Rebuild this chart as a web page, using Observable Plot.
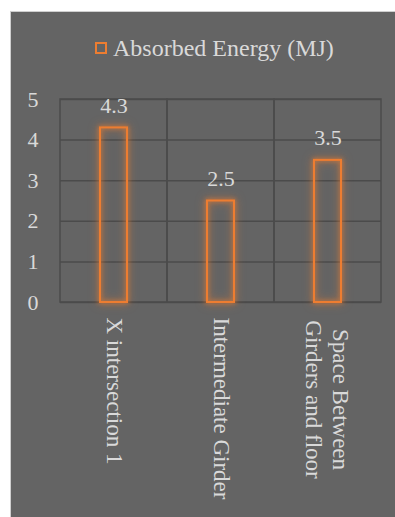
<!DOCTYPE html>
<html><head><meta charset="utf-8">
<script src="https://cdn.jsdelivr.net/npm/d3@7"></script>
<script src="https://cdn.jsdelivr.net/npm/@observablehq/plot@0.6"></script>
<style>
body{margin:0;background:#fff;}
#box{position:absolute;left:10px;top:11px;width:384px;height:505px;background:#646464;border-left:1px solid #cfcfcf;border-top:1px solid #cfcfcf;overflow:hidden;font-family:"Liberation Serif","LiberationSerif",Tinos,"Times New Roman",Times,"DejaVu Serif",serif;}
#legend{box-sizing:border-box;height:60px;padding-top:22px;padding-left:84px;display:flex;color:#d9d9d9;font-size:24px;line-height:28px;align-items:flex-start;}
#legend .sw{box-sizing:border-box;width:12px;height:12px;border:2px solid #ED7D31;margin-top:8px;margin-right:6px;}
svg{display:block;}
</style></head>
<body>
<div id="box">
  <div id="legend"><div class="sw"></div><span id="legtext"></span></div>
  <div id="chart"></div>
</div>
<script>
const seriesName = "Absorbed Energy (MJ)";
const categories = ["X intersection 1", "Intermediate Girder", "Space Between\nGirders and floor"];
const energy = [4.3, 2.5, 3.5];
const yTicks = [0, 1, 2, 3, 4, 5];

const data = categories.map((c, i) => ({category: c, value: energy[i]}));
const gridColor = "#4b4b4b", textColor = "#d9d9d9", orange = "#ED7D31";
const font = '"Liberation Serif", "LiberationSerif", Tinos, "Times New Roman", Times, "DejaVu Serif", serif';

document.getElementById("legtext").textContent = seriesName;

const chart = Plot.plot({
  width: 384, height: 445,
  marginLeft: 49, marginRight: 14, marginTop: 27, marginBottom: 215,
  style: {background: "transparent", color: textColor, fontFamily: font, fontSize: "22px"},
  x: {domain: categories, padding: 0, axis: null},
  y: {domain: [yTicks[0], yTicks[yTicks.length - 1]], axis: null},
  marks: [
    Plot.cell(categories, {x: d => d, fill: "none", stroke: gridColor, strokeWidth: 1.5}),
    Plot.ruleY(yTicks, {stroke: gridColor, strokeWidth: 1.5}),
    Plot.axisY(yTicks, {tickSize: 0, tickPadding: 22, fontSize: 22, fill: textColor, label: null}),
    Plot.barY(data, {x: "category", y: "value", insetLeft: 40, insetRight: 40, fill: "none", stroke: orange, strokeWidth: 2}),
    Plot.text(data, {x: "category", y: "value", text: d => String(d.value), dy: -15, lineAnchor: "bottom", fill: textColor, fontSize: 22}),
    Plot.text(data.filter(d => !d.category.includes("\n")), {x: "category", frameAnchor: "bottom", text: "category", rotate: 90, textAnchor: "start", lineAnchor: "middle", dy: 15, fill: textColor, fontSize: 23}),
    Plot.text(data.filter(d => d.category.includes("\n")), {x: "category", frameAnchor: "bottom", text: "category", rotate: 90, textAnchor: "middle", lineAnchor: "middle", dy: 97, fill: textColor, fontSize: 23, lineHeight: 1.15})
  ]
});
d3.select(chart).selectAll("g[aria-label='bar'] rect")
  .style("filter", "drop-shadow(0 0 2px rgba(237,125,49,0.9)) drop-shadow(0 0 4px rgba(237,125,49,0.6))");
document.getElementById("chart").appendChild(chart);
</script>
</body></html>
